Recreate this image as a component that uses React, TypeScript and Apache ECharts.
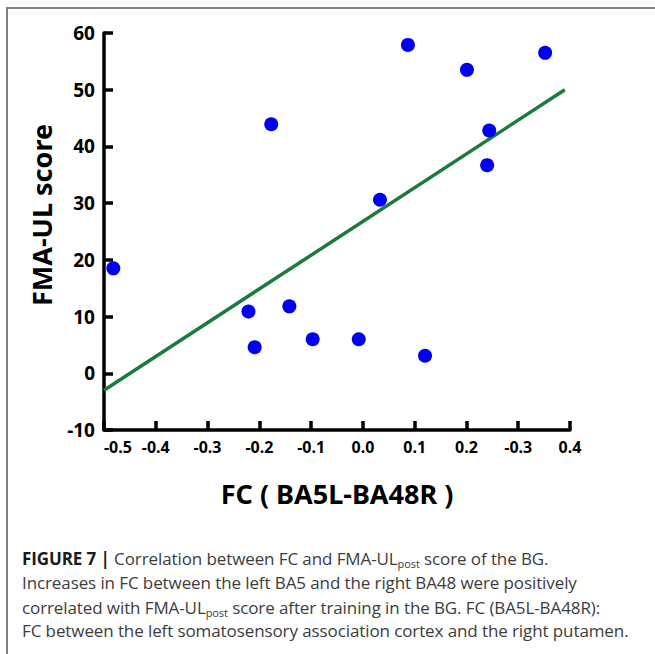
import React, { useEffect, useRef } from "react";
import * as echarts from "echarts";

// ---- data ----
const fcValues = [-0.482, -0.177, -0.221, -0.209, -0.142, -0.097, -0.008, 0.033, 0.087, 0.12, 0.201, 0.244, 0.24, 0.352];
const fmaValues = [18.5, 43.9, 10.9, 4.6, 11.8, 6.0, 6.0, 30.6, 57.9, 3.1, 53.5, 42.8, 36.7, 56.5];
const fitX = [-0.5, 0.39];
const fitY = [-3.0, 50.0];
const xTickLabels = ["-0.5", "-0.4", "-0.3", "-0.2", "-0.1", "0.0", "0.1", "0.2", "-0.3", "0.4"];
const yTickValues = [-10, 0, 10, 20, 30, 40, 50, 60];
const xTitle = "FC ( BA5L-BA48R )";
const yTitle = "FMA-UL score";

const FONT = "'Noto Sans', 'DejaVu Sans', sans-serif";

export default function App() {
  const ref = useRef<HTMLDivElement>(null);

  useEffect(() => {
    if (!ref.current) return;
    const chart = echarts.init(ref.current, undefined, { renderer: "svg" });
    const points = fcValues.map((x, i) => [x, fmaValues[i]]);
    const fit = fitX.map((x, i) => [x, fitY[i]]);
    chart.setOption({
      animation: false,
      backgroundColor: "transparent",
      grid: { left: 104, right: 85, top: 33, bottom: 224, containLabel: false },
      xAxis: {
        type: "value",
        min: -0.5,
        max: 0.4,
        interval: 0.1,
        splitLine: { show: false },
        axisLine: { show: true, onZero: false, lineStyle: { color: "#000", width: 3.5 } },
        axisTick: { show: true, inside: true, length: 9, lineStyle: { color: "#000", width: 3.5 } },
        axisLabel: {
          color: "#000",
          fontFamily: FONT,
          fontWeight: "bold",
          fontSize: 16,
          margin: 9,
          alignMinLabel: "left",
          formatter: (v: number) => {
            const idx = Math.round((v + 0.5) * 10);
            return xTickLabels[idx] ?? "";
          },
        },
        name: xTitle,
        nameLocation: "middle",
        nameGap: 50,
        nameTextStyle: { color: "#000", fontFamily: FONT, fontWeight: "bold", fontSize: 27 },
      },
      yAxis: {
        type: "value",
        min: yTickValues[0],
        max: yTickValues[yTickValues.length - 1],
        interval: 10,
        splitLine: { show: false },
        axisLine: { show: true, onZero: false, lineStyle: { color: "#000", width: 3.5 } },
        axisTick: { show: true, inside: true, length: 9, lineStyle: { color: "#000", width: 3.5 } },
        axisLabel: {
          color: "#000",
          fontFamily: FONT,
          fontWeight: "bold",
          fontSize: 19,
          margin: 9,
        },
      },
      graphic: [
        {
          type: "text",
          x: 41,
          y: 215,
          rotation: Math.PI / 2,
          style: {
            text: yTitle,
            fill: "#000",
            font: `bold 27px ${FONT}`,
            textAlign: "center",
            textVerticalAlign: "middle",
          },
        },
      ],
      series: [
        {
          type: "line",
          data: fit,
          symbol: "none",
          lineStyle: { color: "#1b7a3e", width: 3.5 },
          z: 2,
        },
        {
          type: "scatter",
          data: points,
          symbol: "circle",
          symbolSize: 14,
          itemStyle: { color: "#0000f0", opacity: 1 },
          z: 3,
        },
      ],
    });
    return () => chart.dispose();
  }, []);

  const capText: React.CSSProperties = {
    position: "absolute",
    left: 22,
    height: 24,
    lineHeight: "24px",
    whiteSpace: "nowrap",
    fontFamily: "'Open Sans', 'Liberation Sans', sans-serif",
    fontSize: 17,
    letterSpacing: "-0.1px",
    color: "#3c3c3c",
  };
  const sub: React.CSSProperties = { fontSize: 11, verticalAlign: "-3px", lineHeight: 0 };

  return (
    <div style={{ position: "fixed", left: 0, top: 0, width: 655, height: 654, background: "#fff", overflow: "hidden" }}>
      <div ref={ref} style={{ position: "absolute", left: 0, top: 0, width: 655, height: 654 }} />
      <div
        style={{
          position: "absolute",
          left: 6,
          top: 7,
          width: 700,
          height: 700,
          borderTop: "2px solid #808080",
          borderLeft: "2px solid #808080",
          pointerEvents: "none",
        }}
      />
      <div style={{ ...capText, top: 547 }}>
        <span style={{ fontWeight: "bold", color: "#1a1a1a" }}>FIGURE 7 |</span> Correlation between FC and FMA-UL
        <span style={sub}>post</span> score of the BG.
      </div>
      <div style={{ ...capText, top: 571 }}>
        Increases in FC between the left BA5 and the right BA48 were positively
      </div>
      <div style={{ ...capText, top: 596 }}>
        correlated with FMA-UL<span style={sub}>post</span> score after training in the BG. FC (BA5L-BA48R):
      </div>
      <div style={{ ...capText, top: 619 }}>
        FC between the left somatosensory association cortex and the right putamen.
      </div>
    </div>
  );
}
